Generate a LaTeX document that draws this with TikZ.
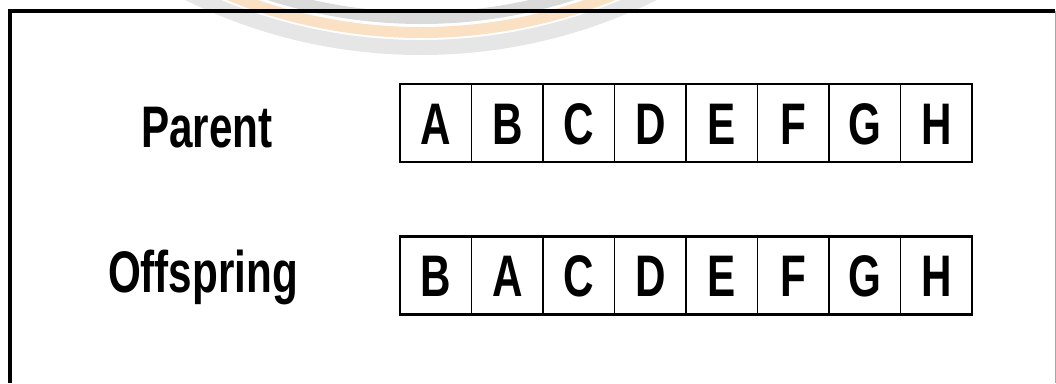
\documentclass[tikz,border=0pt]{standalone}
\usepackage{fontspec}
\setmainfont{Liberation Sans}
\newfontfamily\narrowsans[FakeStretch=0.72]{Liberation Sans}

\begin{document}
\begin{tikzpicture}[x=0.025cm, y=-0.025cm, line join=miter,
    gene/.style={draw, line width=1.3pt, inner sep=0pt, outer sep=0pt,
      minimum width=1.7875cm, minimum height=1.95cm,
      text height=1.05cm, text depth=0pt,
      font=\narrowsans\bfseries\fontsize{41.7}{48}\selectfont},
    rowname/.style={anchor=base, inner sep=0pt,
      font=\narrowsans\bfseries\fontsize{41.7}{48}\selectfont}]
    \definecolor{markgray}{HTML}{E6E6E6}
    \definecolor{markgrayin}{HTML}{DADADA}
    \definecolor{markorange}{HTML}{FBE1C4}

    % --- free parameters (pixels of the page)
    \pgfmathsetmacro{\left}{400}     % left edge of both chromosomes
    \pgfmathsetmacro{\gw}{71.5}      % width of one gene
    \pgfmathsetmacro{\parenty}{123}  % middle of the parent row
    \pgfmathsetmacro{\childy}{275.5} % middle of the offspring row

    \useasboundingbox (0,0) rectangle (1056,383);

    % --- faded mark behind the frame
    \begin{scope}
      \clip (0,0) rectangle (1056,383);
      \draw[markgray, line width=0.375cm] (421,-477) circle (524.5);
      \draw[markorange, line width=0.275cm] (421,-477) circle (509.5);
      \draw[markgrayin, line width=0.3cm] (421,-477) circle (495);
    \end{scope}

    % --- the frame, open at the bottom
    \draw[line width=2.2pt] (10,383) -- (10,11) -- (1055,11);
    \draw[black!35, line width=0.6pt] (1055,11) -- (1055,383);

    % --- the two chromosomes
    \foreach \g [count=\i] in {A,B,C,D,E,F,G,H} {
      \node[gene] (p\i) at ({\left+\gw*(\i-0.5)}, \parenty) {\g};
    }
    \foreach \g [count=\i] in {B,A,C,D,E,F,G,H} {
      \node[gene] (o\i) at ({\left+\gw*(\i-0.5)}, \childy) {\g};
    }
    \draw[line width=2pt] (p1.north west) rectangle (p8.south east);
    \draw[line width=2pt] (o1.north west) rectangle (o8.south east);

    % --- row names
    \node[rowname] (parent) at (207,147) {Parent};
    \node[rowname] (offspring) at (203,292) {Offspring};
\end{tikzpicture}
\end{document}
